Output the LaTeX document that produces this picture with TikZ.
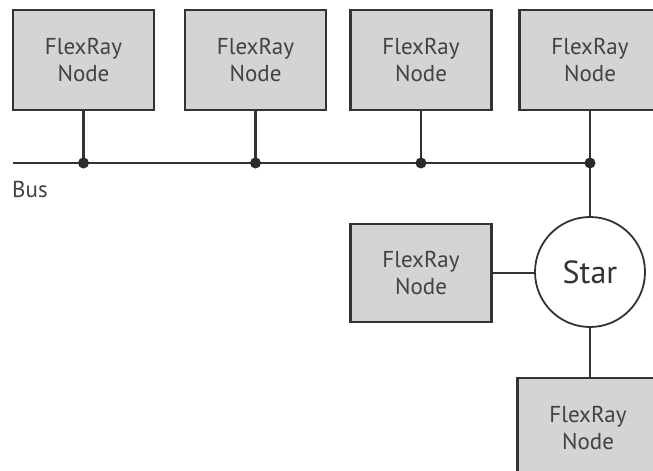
\documentclass[tikz,border=0pt]{standalone}
\usepackage{fontspec}
\setmainfont{PT Sans}
\definecolor{boxfill}{HTML}{D4D4D4}
\definecolor{edge}{HTML}{333333}
\definecolor{label}{HTML}{424242}
\begin{document}
\begin{tikzpicture}[x=1pt,y=-1pt,
  frnode/.style={draw=edge, fill=boxfill, line width=2.1pt, rectangle,
    minimum width=141pt, minimum height=100pt, inner sep=0pt,
    align=center, text=label, font=\fontsize{23}{27}\selectfont},
  starnode/.style={draw=edge, fill=white, line width=1.8pt, circle,
    minimum size=110pt, inner sep=0pt, text=edge,
    font=\fontsize{32}{36}\selectfont},
  wire/.style={draw=edge, line width=2.2pt},
  joint/.style={circle, fill=edge!85!black, minimum size=11pt, inner sep=0pt}]
\useasboundingbox (0,0) rectangle (653,471);
\clip (0,0) rectangle (653,471);
\fill[white] (0,0) rectangle (653,471);

% nodes on the bus
\node[frnode] (n1) at (83.5,60) {FlexRay\\Node};
\node[frnode] (n2) at (255.5,60) {FlexRay\\Node};
\node[frnode] (n3) at (421,60) {FlexRay\\Node};
\node[frnode] (n4) at (590,60) {FlexRay\\Node};

% star coupler and its nodes
\node[starnode] (star) at (590,272) {Star};
\node[frnode, minimum height=98pt] (n5) at (421,273) {FlexRay\\Node};
\node[frnode] (n6) at (588,428) {FlexRay\\Node};

% bus line and junctions
\coordinate (busL) at (13,163);
\coordinate (j1) at (n1.south |- busL);
\coordinate (j2) at (n2.south |- busL);
\coordinate (j3) at (n3.south |- busL);
\coordinate (j4) at (n4.south |- busL);
\draw[wire] (busL) -- (j4);
\draw[wire] (n1.south) -- (j1);
\draw[wire] (n2.south) -- (j2);
\draw[wire] (n3.south) -- (j3);
\draw[wire] (n4.south) -- (j4);
\draw[wire] (j4) -- (star.north);
\draw[wire] (n5.east) -- (star.west |- n5.east);
\draw[wire] (star.south) -- (n6.north -| star.south);
\node[joint] at (j1) {};
\node[joint] at (j2) {};
\node[joint] at (j3) {};
\node[joint] at (j4) {};

\node[anchor=north west, inner sep=0pt, text=label,
  font=\fontsize{23}{27}\selectfont] (buslabel) at (12,181) {Bus};
\end{tikzpicture}
\end{document}
